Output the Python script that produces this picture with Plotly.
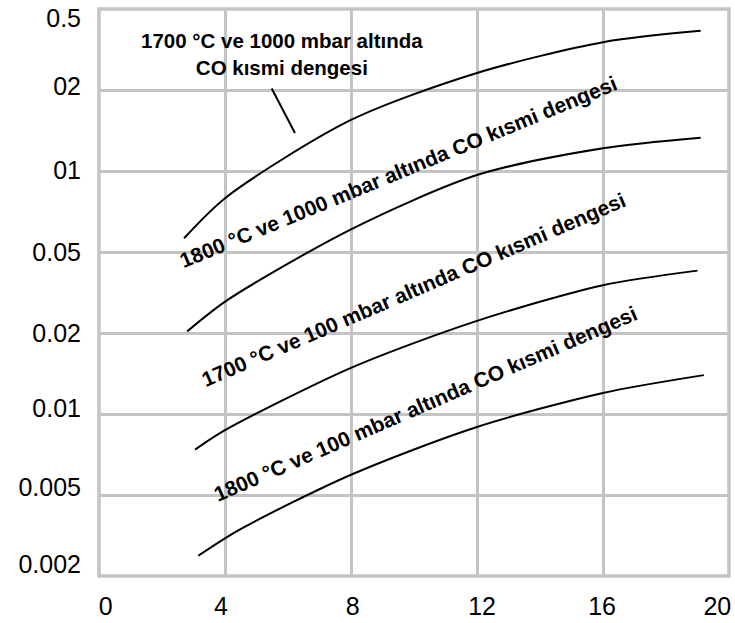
import plotly.graph_objects as go

# ---- data (x in axis units, y in tick-index units of the evenly spaced y scale) ----
x_labels = ["0", "4", "8", "12", "16", "20"]
y_labels = ["0.002", "0.005", "0.01", "0.02", "0.05", "01", "02", "0.5"]

c1_x = [2.7, 4.05, 8.0, 12.0, 16.0, 19.1]
c1_y = [4.17, 4.68, 5.63, 6.21, 6.59, 6.73]
c2_x = [2.8, 4.05, 8.0, 12.0, 16.0, 19.1]
c2_y = [3.02, 3.40, 4.28, 4.95, 5.28, 5.41]
c3_x = [3.05, 4.0, 8.0, 12.0, 16.0, 19.0]
c3_y = [1.56, 1.80, 2.57, 3.15, 3.59, 3.77]
c4_x = [3.15, 4.45, 8.0, 12.0, 16.0, 19.2]
c4_y = [0.25, 0.57, 1.25, 1.84, 2.26, 2.48]

label_top = "1700 °C ve 1000 mbar altında<br>CO kısmi dengesi"
label_c2 = "1800 °C ve 1000 mbar altında CO kısmi dengesi"
label_c3 = "1700 °C ve 100 mbar altında CO kısmi dengesi"
label_c4 = "1800 °C ve 100 mbar altında CO kısmi dengesi"

# ---- style ----
FONT = "Liberation Sans, Arial, sans-serif"
GRID = "#c4c4c4"

fig = go.Figure()
for xs, ys in [(c1_x, c1_y), (c2_x, c2_y), (c3_x, c3_y), (c4_x, c4_y)]:
    fig.add_trace(go.Scatter(x=xs, y=ys, mode="lines",
                             line=dict(color="black", width=2, shape="spline", smoothing=0.8),
                             showlegend=False, hoverinfo="skip"))

ann_font = dict(family=FONT, size=21, color="black")
fig.add_annotation(x=5.81, y=6.44, text="<b>" + label_top + "</b>", showarrow=False,
                   font=dict(family=FONT, size=20.5, color="black"), align="center")
fig.add_annotation(x=6.22, y=5.47, ax=-24, ay=-46, text="", showarrow=True,
                   arrowhead=0, arrowwidth=2, arrowcolor="black")
fig.add_annotation(x=9.52, y=4.99, text="<b>" + label_c2 + "</b>", showarrow=False,
                   font=ann_font, textangle=-22.4)
fig.add_annotation(x=9.99, y=3.54, text="<b>" + label_c3 + "</b>", showarrow=False,
                   font=ann_font, textangle=-23.3)
fig.add_annotation(x=10.37, y=2.13, text="<b>" + label_c4 + "</b>", showarrow=False,
                   font=ann_font, textangle=-23.5)

# plot frame
fig.add_shape(type="rect", xref="paper", yref="paper", x0=0, x1=1, y0=0, y1=1,
              line=dict(color=GRID, width=3.5), layer="above")

fig.update_layout(
    width=735, height=623,
    margin=dict(l=99, r=6, t=9, b=47, autoexpand=False),
    paper_bgcolor="white", plot_bgcolor="white",
    font=dict(family=FONT, size=25, color="black"),
    showlegend=False,
)
fig.update_xaxes(
    range=[0, 20], showgrid=False, zeroline=False, automargin=False,
    tickmode="array", tickvals=[0.21, 3.87, 8.05, 12.16, 15.97, 19.63], ticktext=x_labels,
    ticks="outside", ticklen=8, tickcolor="rgba(0,0,0,0)", ticklabeloverflow="allow",
    tickfont=dict(family=FONT, size=25, color="black"),
    showline=False,
    minor=dict(tickmode="array", tickvals=[4, 8, 12, 16], showgrid=True,
               gridcolor=GRID, gridwidth=3, ticks=""),
)
fig.update_yaxes(
    range=[0, 7], showgrid=False, zeroline=False, automargin=False,
    tickmode="array", tickvals=[0.15, 1.10, 2.07, 3.0, 4.0, 5.01, 6.05, 6.88], ticktext=y_labels,
    ticks="outside", ticklen=12, tickcolor="rgba(0,0,0,0)", ticklabeloverflow="allow",
    tickfont=dict(family=FONT, size=25, color="black"),
    showline=False,
    minor=dict(tickmode="array", tickvals=[1, 2, 3, 4, 5, 6], showgrid=True,
               gridcolor=GRID, gridwidth=3, ticks=""),
)

fig.write_html("out.html", config={"displayModeBar": False},
               post_script="document.body.style.margin='0';document.body.style.overflow='hidden';")
